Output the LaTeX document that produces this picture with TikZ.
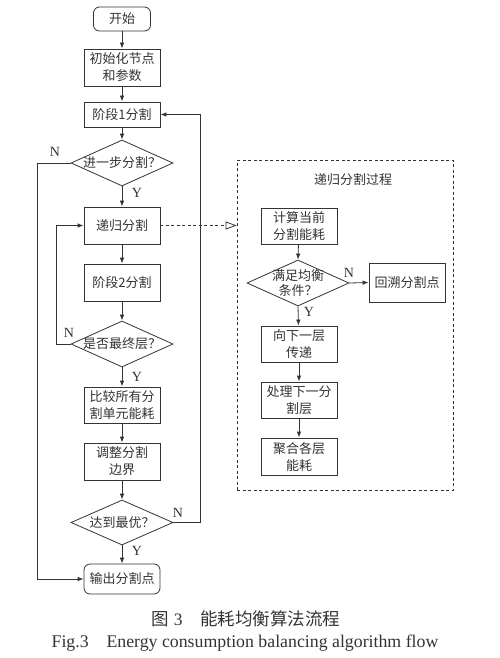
\documentclass[tikz,border=0pt]{standalone}
\usepackage{fontspec}
\setmainfont{Liberation Serif}
\newfontfamily\cjk{Noto Sans CJK SC}
\usepackage{tikz}
\usetikzlibrary{calc}
\usetikzlibrary{shapes.geometric,arrows.meta}
\definecolor{ink}{HTML}{333333}

\begin{document}
\begin{tikzpicture}[x=1pt,y=-1pt,
  every node/.style={text=ink},
  box/.style={draw=ink, line width=0.8pt, minimum width=76pt, minimum height=37pt, inner sep=0pt, align=center, font=\cjk\fontsize{13}{17}\selectfont},
  term/.style={box, rounded corners=6pt},
  dia/.style={draw=ink, line width=0.8pt, diamond, inner sep=0pt, minimum width=102pt, minimum height=46pt, font=\cjk\fontsize{13}{15.5}\selectfont},
  yn/.style={font=\fontsize{14}{14}\selectfont, inner sep=0pt},
  flow/.style={draw=ink, line width=0.8pt, -{Latex[length=6pt,width=4.5pt]}},
  panel/.style={draw=ink, line width=0.8pt, dash pattern=on 3pt off 2.5pt, minimum width=216pt, minimum height=330pt, inner sep=0pt}]
\useasboundingbox (0,0) rectangle (499,658);

\node[term, minimum width=57pt, minimum height=24pt] (start) at (122,19) {开始};
\node[box] (init) at (122,67.5) {初始化节点\\和参数};
\node[box, minimum height=25pt] (s1) at (122,114.5) {阶段1分割};
\node[dia, label={[font=\cjk\fontsize{13}{15}\selectfont]center:进一步分割？}] (q1) at (122,163) {};
\node[box] (rec) at (122,225.5) {递归分割};
\node[box] (s2) at (122,282.5) {阶段2分割};
\node[dia, label={[font=\cjk\fontsize{13}{15}\selectfont]center:是否最终层？}] (q2) at (122,344) {};
\node[box, minimum height=36pt] (cmp) at (122,405) {比较所有分\\割单元能耗};
\node[box] (adj) at (122,461.5) {调整分割\\边界};
\node[dia, minimum height=45pt, label={[font=\cjk\fontsize{13}{15}\selectfont]center:达到最优？}] (q3) at (122,522.5) {};
\node[term, minimum height=30pt] (out) at (122,579) {输出分割点};

\node[panel] (panel) at (345,325) {};
\node[font=\cjk\fontsize{13}{15}\selectfont] (ptitle) at (353,180) {递归分割过程};
\node[box, minimum height=36pt] (calc) at (299,226) {计算当前\\分割能耗};
\node[dia, label={[font=\cjk\fontsize{13}{14.5}\selectfont, align=center]center:满足均衡\\条件？}] (q4) at (298,283) {};
\node[box, minimum height=39pt] (back) at (407,282.5) {回溯分割点};
\node[box, minimum height=36pt] (down) at (299,344) {向下一层\\传递};
\node[box, minimum height=36pt] (proc) at (299,400) {处理下一分\\割层};
\node[box] (agg) at (299,456.5) {聚合各层\\能耗};

\draw[flow] (start) -- (init);
\draw[flow] (init) -- (s1);
\draw[flow] (s1) -- (q1.north);
\draw[flow] (q1.south) -- (rec);
\draw[flow] (rec) -- (s2);
\draw[flow] (s2) -- (q2.north);
\draw[flow] (q2.south) -- (cmp);
\draw[flow] (cmp) -- (adj);
\draw[flow] (adj) -- (q3.north);
\draw[flow] (q3.south) -- (out);
\draw[flow] (q1.west) -- ++(-33,0) |- (out.west);
\draw[flow] (q2.west) -- ++(-14,0) |- (rec.west);
\draw[flow] (q3.east) -- ++(27,0) |- (s1.east);
\draw[draw=ink, line width=0.8pt, dash pattern=on 3pt off 2.5pt, -{Triangle[open, length=11pt, width=8pt]}] (rec.east) -- (rec.east -| panel.west);

\draw[flow] (calc) -- (q4.north);
\draw[flow] (q4.south) -- (down);
\draw[flow] (q4.east) -- (back.west);
\draw[flow] (down) -- (proc);
\draw[flow] (proc) -- (agg);

\node[yn] (n1) at (55,152) {N};
\node[yn] (y1) at (137,193) {Y};
\node[yn] (n2) at (69,333) {N};
\node[yn] (y2) at (137,377) {Y};
\node[yn] (n3) at (178,513) {N};
\node[yn] (y3) at (137,551) {Y};
\node[yn] (n4) at (349,273) {N};
\node[yn] (y4) at (309,312) {Y};

\node[font=\fontsize{17.5}{17.5}\selectfont] (cap1) at (246,619) {{\cjk 图}\ 3\quad {\cjk 能耗均衡算法流程}};
\node[font=\fontsize{17.8}{17.8}\selectfont] (cap2) at (245,643) {Fig.3\quad Energy consumption balancing algorithm flow};
\end{tikzpicture}
\end{document}
